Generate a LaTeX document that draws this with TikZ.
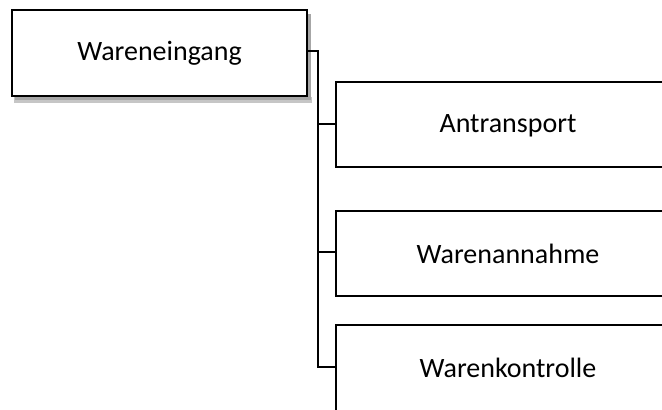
\documentclass[tikz,border=0pt]{standalone}
\usepackage{fontspec}
\setmainfont{Carlito}
\begin{document}
\begin{tikzpicture}[x=1pt,y=-1pt,
  box/.style={draw=black,line width=1.6pt,fill=white,rectangle,inner sep=0pt},
  conn/.style={draw=black,line width=1.6pt},
  lbl/.style={font=\fontsize{28}{33}\selectfont}]
\useasboundingbox (0,0) rectangle (662,410);
\begin{scope}
\clip (0,0) rectangle (662,410);
% shadow
\fill[gray!45] (14,97) rectangle (312,103);
\fill[gray!70] (15,14) rectangle (311,100);
% top box
\path[box] (12,10) rectangle (307,96);
\node[lbl] (top) at (159.5,53) {Wareneingang};
\coordinate (topR) at (307,51);
% children
\path[box] (336,82) rectangle (680,167);
\node[lbl] (c1) at (508,126) {Antransport};
\path[box] (336,211) rectangle (680,296);
\node[lbl] (c2) at (508,254) {Warenannahme};
\path[box] (336,325) rectangle (680,420);
\node[lbl] (c3) at (508,368) {Warenkontrolle};
\coordinate (c1L) at (336,124);
\coordinate (c2L) at (336,252);
\coordinate (c3L) at (336,367);
\coordinate (bus) at (318,51);
\draw[conn] (topR) -- (bus) -- (bus |- c3L) -- (c3L);
\draw[conn] (bus |- c1L) -- (c1L);
\draw[conn] (bus |- c2L) -- (c2L);
\end{scope}
\end{tikzpicture}
\end{document}
